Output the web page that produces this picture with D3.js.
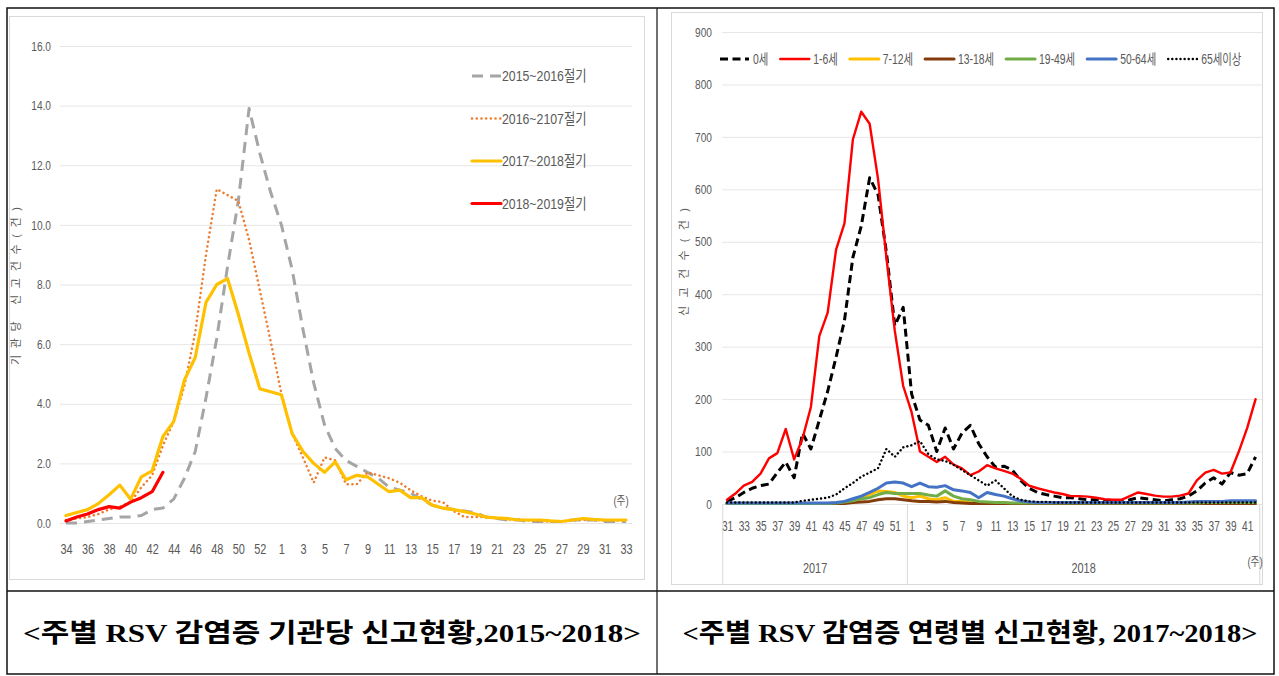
<!DOCTYPE html>
<html>
<head>
<meta charset="utf-8">
<script src="https://cdn.jsdelivr.net/npm/d3@7"></script>
<style>
body { margin: 0; background: #fff; }
text { font-family: "Liberation Sans Narrow", "Liberation Sans", "Noto Sans CJK KR", sans-serif; fill: #595959; }
.caption { font-family: "Liberation Serif", "Noto Sans CJK KR", serif; fill: #000; font-weight: 600; }
</style>
</head>
<body>
<svg id="page" width="1279" height="676"></svg>
<script>
// ---- left chart: reports per institution, by season ----
const weeksL = [34,35,36,37,38,39,40,41,42,43,44,45,46,47,48,49,50,51,52,53,
  1,2,3,4,5,6,7,8,9,10,11,12,13,14,15,16,17,18,19,20,21,22,23,24,25,26,27,28,29,30,31,32,33];
const season1516 = [0.0,0.0,0.05,0.1,0.15,0.2,0.2,0.25,0.45,0.5,0.8,1.5,2.4,4.2,6.2,8.6,10.8,13.9,12.4,11.1,
  10.0,8.5,6.5,4.7,3.3,2.5,2.1,1.9,1.7,1.5,1.2,1.1,1.0,0.8,0.6,0.5,0.45,0.4,0.35,0.2,0.15,0.1,0.1,0.05,0.05,0.05,0.05,0.1,0.1,0.1,0.05,0.05,0.05];
const season1617 = [0.1,0.15,0.2,0.3,0.45,0.55,0.7,1.2,1.6,2.6,3.4,4.6,6.4,9.0,11.2,11.0,10.8,9.5,7.8,6.1,
  4.35,3.0,2.2,1.35,2.2,2.1,1.3,1.3,1.7,1.6,1.5,1.35,1.1,0.9,0.75,0.7,0.4,0.2,0.2,0.2,0.15,0.12,0.12,0.08,0.06,0.05,0.05,0.08,0.1,0.1,0.08,0.08,0.08];
const season1718 = [0.25,0.35,0.45,0.65,0.95,1.27,0.8,1.55,1.75,2.9,3.4,4.8,5.55,7.4,8.0,8.2,7.0,5.7,4.5,4.4,
  4.3,3.0,2.4,2.0,1.7,2.05,1.45,1.6,1.55,1.3,1.05,1.1,0.85,0.85,0.6,0.5,0.45,0.38,0.3,0.2,0.17,0.15,0.1,0.1,0.1,0.07,0.05,0.1,0.15,0.12,0.1,0.1,0.1];
const season1819 = [0.07,0.2,0.3,0.45,0.55,0.5,0.7,0.85,1.05,1.7];
const seasonNames = ["2015~2016절기","2016~2107절기","2017~2018절기","2018~2019절기"];
const yTicksL = [0,2,4,6,8,10,12,14,16];

// ---- right chart: reports by age group, 2017~2018 ----
const weeksR = [31,32,33,34,35,36,37,38,39,40,41,42,43,44,45,46,47,48,49,50,51,52,
  1,2,3,4,5,6,7,8,9,10,11,12,13,14,15,16,17,18,19,20,21,22,23,24,25,26,27,28,29,30,31,32,33,34,35,36,37,38,39,40,41,42];
const yearGroups = [{year:"2017", count:22}, {year:"2018", count:42}];
const age0 = [5,12,22,30,35,38,60,80,50,135,105,160,215,280,350,470,530,622,590,480,340,375,
  210,160,150,100,145,105,135,150,115,90,70,72,65,45,30,22,18,15,12,12,10,8,8,6,5,5,8,12,10,8,6,8,10,15,25,40,50,38,60,55,58,90];
const age1to6 = [8,20,35,42,58,87,97,143,85,125,185,320,365,485,535,695,748,725,620,470,330,225,
  175,100,90,80,90,75,68,55,62,74,68,63,58,48,35,30,26,22,19,15,15,14,12,9,8,8,15,22,19,16,14,14,16,20,45,60,65,58,60,100,145,200];
const age7to12 = [1,1,1,1,1,1,1,1,1,1,1,1,1,1,3,5,10,18,25,24,22,15,
  12,15,10,8,12,5,5,3,2,2,2,2,1,1,1,1,1,1,1,1,1,1,1,1,1,1,1,1,1,1,1,1,2,2,4,4,4,4,3,3,3,3];
const age13to18 = [1,1,1,1,1,1,1,1,1,1,1,1,1,1,1,3,4,5,8,10,10,8,
  6,5,5,4,5,3,2,1,1,1,1,1,1,1,1,1,1,1,1,1,1,1,1,1,1,1,1,1,1,1,1,1,1,1,1,1,1,1,1,1,1,1];
const age19to49 = [1,1,1,1,1,1,1,1,1,1,1,1,1,2,4,6,10,12,18,22,20,20,
  20,20,17,15,25,15,10,8,5,4,3,3,2,2,2,2,2,2,2,2,2,2,2,2,2,2,2,2,2,2,2,2,2,2,2,3,3,3,3,3,3,3];
const age50to64 = [2,2,2,2,2,2,2,2,2,2,2,2,2,3,5,10,15,22,30,40,42,40,
  33,40,33,32,35,27,25,22,12,22,18,15,10,6,4,3,3,3,3,3,3,3,3,3,3,3,3,3,3,3,3,3,3,4,5,5,5,5,6,6,6,6];
const age65up = [3,3,3,3,3,3,3,3,3,6,8,10,12,18,30,40,52,60,68,105,90,108,
  112,120,95,85,82,75,65,55,45,35,45,30,15,8,5,4,4,3,3,3,3,3,3,3,3,3,3,3,3,3,3,3,3,3,3,3,3,3,3,3,3,3];
const ageNames = ["0세","1-6세","7-12세","13-18세","19-49세","50-64세","65세이상"];
const yTicksR = [0,100,200,300,400,500,600,700,800,900];

const svg = d3.select("#page");

// squeeze text horizontally, the source chart uses a narrow face
function condense(sel, k) {
  sel.each(function() {
    var w = this.getComputedTextLength();
    if (w > 0) d3.select(this).attr("textLength", w * k).attr("lengthAdjust", "spacingAndGlyphs");
  });
}

// table frame
const tbl = svg.append("g");
tbl.append("rect").attr("x",7).attr("y",8).attr("width",1267).attr("height",666)
  .attr("fill","none").attr("stroke","#111").attr("stroke-width",1.5);
tbl.append("line").attr("x1",657).attr("x2",657).attr("y1",8).attr("y2",674)
  .attr("stroke","#111").attr("stroke-width",1.2);
tbl.append("line").attr("x1",7).attr("x2",1274).attr("y1",591).attr("y2",591)
  .attr("stroke","#111").attr("stroke-width",1.5);

// chart area borders
svg.append("rect").attr("x",9.5).attr("y",16.5).attr("width",635).attr("height",563)
  .attr("fill","none").attr("stroke","#d9d9d9");
svg.append("rect").attr("x",671.5).attr("y",12.5).attr("width",591).attr("height",572)
  .attr("fill","none").attr("stroke","#d9d9d9");

/* ------- LEFT CHART ------- */
var xL = d3.scalePoint().domain(d3.range(weeksL.length)).range([66, 626]);
var yL = d3.scaleLinear().domain([0, 16]).range([523, 46]);

var gl = svg.append("g");
gl.append("g")
  .attr("transform", "translate(60,0)")
  .call(d3.axisLeft(yL).tickValues(yTicksL).tickFormat(d3.format(".1f"))
    .tickSize(-572).tickPadding(9))
  .call(function(g) {
    g.select(".domain").remove();
    g.selectAll("line").attr("stroke", "#e6e6e6");
    g.selectAll("text").attr("font-size", 13).attr("fill", "#595959")
      .attr("font-family", null).call(condense, 0.78);
  });
gl.append("g")
  .attr("transform", "translate(0,523)")
  .call(d3.axisBottom(xL).tickSize(0).tickPadding(21)
    .tickFormat(function(i) { return i % 2 == 0 ? weeksL[i] : ""; }))
  .call(function(g) {
    g.select(".domain").remove();
    g.selectAll("text").attr("font-size", 14).attr("fill", "#595959")
      .attr("font-family", null).call(condense, 0.78);
  });

var lineL = d3.line()
  .defined(function(d) { return d != null; })
  .x(function(d, i) { return xL(i); })
  .y(function(d) { return yL(d); });

var seriesL = [
  { name: seasonNames[0], values: season1516, color: "#a5a5a5", width: 3, dash: "11,7", cap: "butt" },
  { name: seasonNames[1], values: season1617, color: "#ed7d31", width: 2.5, dash: "0.1,4.6", cap: "round" },
  { name: seasonNames[2], values: season1718, color: "#ffc000", width: 3.2, dash: null, cap: "round" },
  { name: seasonNames[3], values: season1819, color: "#ff0000", width: 3.2, dash: null, cap: "round" }
];

gl.selectAll("path.series")
  .data(seriesL)
  .enter()
  .append("path")
  .attr("class", "series")
  .attr("fill", "none")
  .attr("stroke", function(d) { return d.color; })
  .attr("stroke-width", function(d) { return d.width; })
  .attr("stroke-dasharray", function(d) { return d.dash; })
  .attr("stroke-linecap", function(d) { return d.cap; })
  .attr("stroke-linejoin", "round")
  .attr("d", function(d) { return lineL(d.values); });

// legend (vertical, right side)
var legL = gl.selectAll("g.leg")
  .data(seriesL)
  .enter()
  .append("g")
  .attr("class", "leg")
  .attr("transform", function(d, i) { return "translate(472," + (76 + i * 42.5) + ")"; });
legL.append("line")
  .attr("x1", 0).attr("x2", 29)
  .attr("stroke", function(d) { return d.color; })
  .attr("stroke-width", function(d) { return d.width; })
  .attr("stroke-dasharray", function(d) { return d.dash; })
  .attr("stroke-linecap", function(d) { return d.cap; });
legL.append("text")
  .attr("x", 30).attr("dy", "0.35em")
  .attr("font-size", 15)
  .text(function(d) { return d.name; })
  .call(condense, 0.82);

gl.append("text").attr("x", 621).attr("y", 501).attr("text-anchor", "middle")
  .attr("dy", "0.35em").attr("font-size", 12).text("(주)").call(condense, 0.8);
gl.append("text")
  .attr("transform", "translate(16,286) rotate(-90)")
  .attr("text-anchor", "middle").attr("dy", "0.35em")
  .attr("font-size", 11).attr("fill", "#8c8c8c")
  .attr("textLength", 158).attr("lengthAdjust", "spacing")
  .text("기관당 신고건수(건)");

/* ------- RIGHT CHART ------- */
var xR = d3.scalePoint().domain(d3.range(weeksR.length)).range([727, 1255.6]);
var yR = d3.scaleLinear().domain([0, 900]).range([504, 32]);
var stepR = xR.step();

var gr = svg.append("g");
gr.append("g")
  .attr("transform", "translate(722,0)")
  .call(d3.axisLeft(yR).tickValues(yTicksR).tickSize(-540).tickPadding(10))
  .call(function(g) {
    g.select(".domain").remove();
    g.selectAll("line").attr("stroke", "#e6e6e6");
    g.selectAll("text").attr("font-size", 13).attr("fill", "#595959")
      .attr("font-family", null).call(condense, 0.78);
  });
gr.append("g")
  .attr("transform", "translate(0,504)")
  .call(d3.axisBottom(xR).tickSize(0).tickPadding(17)
    .tickFormat(function(i) { return i % 2 == 0 ? weeksR[i] : ""; }))
  .call(function(g) {
    g.select(".domain").remove();
    g.selectAll("text").attr("font-size", 14).attr("fill", "#595959")
      .attr("font-family", null).call(condense, 0.72);
  });

// year groups under the week labels
var start = 0;
var groups = yearGroups.map(function(g) {
  var o = { year: g.year, first: start, last: start + g.count - 1 };
  start += g.count;
  return o;
});
var bounds = [xR(0) - stepR / 2].concat(groups.map(function(g) { return xR(g.last) + stepR / 2; }));
gr.selectAll("line.sep")
  .data(bounds)
  .enter()
  .append("line")
  .attr("class", "sep")
  .attr("x1", function(d) { return d; }).attr("x2", function(d) { return d; })
  .attr("y1", 504).attr("y2", 585)
  .attr("stroke", "#d9d9d9");
gr.selectAll("text.year")
  .data(groups)
  .enter()
  .append("text")
  .attr("class", "year")
  .attr("x", function(g) { return (xR(g.first) + xR(g.last)) / 2; })
  .attr("y", 568).attr("dy", "0.35em")
  .attr("text-anchor", "middle").attr("font-size", 14)
  .text(function(g) { return g.year; })
  .call(condense, 0.78);

var lineR = d3.line()
  .x(function(d, i) { return xR(i); })
  .y(function(d) { return yR(d); });

var seriesR = [
  { name: ageNames[0], values: age0, color: "#000000", width: 3, dash: "8,4.5", cap: "butt" },
  { name: ageNames[1], values: age1to6, color: "#ff0000", width: 2.4, dash: null, cap: "round" },
  { name: ageNames[2], values: age7to12, color: "#ffc000", width: 3, dash: null, cap: "round" },
  { name: ageNames[3], values: age13to18, color: "#843c0c", width: 3, dash: null, cap: "round" },
  { name: ageNames[4], values: age19to49, color: "#70ad47", width: 3, dash: null, cap: "round" },
  { name: ageNames[5], values: age50to64, color: "#4472c4", width: 3, dash: null, cap: "round" },
  { name: ageNames[6], values: age65up, color: "#000000", width: 2.4, dash: "0.1,4", cap: "round" }
];

gr.selectAll("path.series")
  .data(seriesR)
  .enter()
  .append("path")
  .attr("class", "series")
  .attr("fill", "none")
  .attr("stroke", function(d) { return d.color; })
  .attr("stroke-width", function(d) { return d.width; })
  .attr("stroke-dasharray", function(d) { return d.dash; })
  .attr("stroke-linecap", function(d) { return d.cap; })
  .attr("stroke-linejoin", "round")
  .attr("d", function(d) { return lineR(d.values); });

// legend (one row, top)
var legR = gr.append("g").attr("transform", "translate(720,59)");
var lx = 0;
seriesR.forEach(function(d) {
  var item = legR.append("g").attr("transform", "translate(" + lx + ",0)");
  item.append("line")
    .attr("x1", 0).attr("x2", 29)
    .attr("stroke", d.color)
    .attr("stroke-width", d.width)
    .attr("stroke-dasharray", d.dash)
    .attr("stroke-linecap", d.cap);
  var t = item.append("text")
    .attr("x", 33).attr("dy", "0.35em")
    .attr("font-size", 14)
    .text(d.name)
    .call(condense, 0.74);
  lx += 33 + (+t.attr("textLength")) + 12;
});

gr.append("text").attr("x", 1255).attr("y", 562).attr("text-anchor", "middle")
  .attr("dy", "0.35em").attr("font-size", 12).text("(주)").call(condense, 0.8);
gr.append("text")
  .attr("transform", "translate(684,262) rotate(-90)")
  .attr("text-anchor", "middle").attr("dy", "0.35em")
  .attr("font-size", 11).attr("fill", "#8c8c8c")
  .attr("textLength", 108).attr("lengthAdjust", "spacing")
  .text("신고건수(건)");

/* ------- CAPTIONS ------- */
svg.append("text").attr("class", "caption")
  .attr("x", 332).attr("y", 633).attr("dy", "0.35em")
  .attr("text-anchor", "middle").attr("font-size", 26)
  .attr("textLength", 618).attr("lengthAdjust", "spacingAndGlyphs")
  .text("<주별 RSV 감염증 기관당 신고현황,2015~2018>");
svg.append("text").attr("class", "caption")
  .attr("x", 970).attr("y", 633).attr("dy", "0.35em")
  .attr("text-anchor", "middle").attr("font-size", 26)
  .attr("textLength", 575).attr("lengthAdjust", "spacingAndGlyphs")
  .text("<주별 RSV 감염증 연령별 신고현황, 2017~2018>");
</script>
</body>
</html>
